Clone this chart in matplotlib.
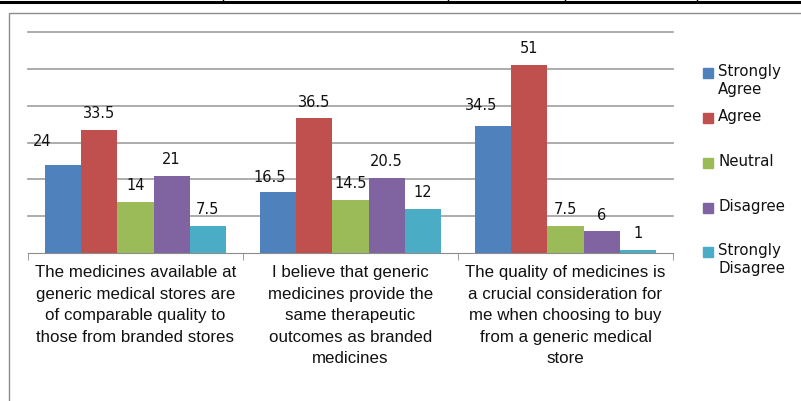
import matplotlib
matplotlib.use("Agg")
import matplotlib.pyplot as plt
from matplotlib import font_manager
from matplotlib.lines import Line2D
from matplotlib.patches import Rectangle
import numpy as np

# survey data (percent of respondents)
statements = [
    "The medicines available at\ngeneric medical stores are\nof comparable quality to\nthose from branded stores",
    "I believe that generic\nmedicines provide the\nsame therapeutic\noutcomes as branded\nmedicines",
    "The quality of medicines is\na crucial consideration for\nme when choosing to buy\nfrom a generic medical\nstore",
]
responses = ["Strongly\nAgree", "Agree", "Neutral", "Disagree", "Strongly\nDisagree"]
strongly_agree = [24, 16.5, 34.5]
agree = [33.5, 36.5, 51]
neutral = [14, 14.5, 7.5]
disagree = [21, 20.5, 6]
strongly_disagree = [7.5, 12, 1]

colors = ["#4F81BD", "#C0504D", "#9BBB59", "#8064A2", "#4BACC6"]
# Excel nudged the blue labels sideways; pixel offsets per group
blue_nudge = [(-21, 23), (-9, 15), (-12, 20)]


def pick_font(names):
    for n in names:
        try:
            font_manager.findfont(n, fallback_to_default=False)
            return n
        except Exception:
            pass
    return "DejaVu Sans"


narrow = pick_font(["Liberation Sans Narrow", "DejaVu Sans Condensed", "Liberation Sans"])
cat_size = 13.5 if narrow != "Liberation Sans" else 12.2
cat_spacing = 1.54

W, H = 801, 401
fig = plt.figure(figsize=(W / 100, H / 100), dpi=100)


def fx(px):
    return px / W


def fy(py):
    return 1 - py / H


# page furniture: table rule on top and chart frame
fig.add_artist(Line2D([0, 1], [fy(1.8), fy(1.8)], color="black", lw=2.2))
for xp in [223, 448, 565, 697]:
    fig.add_artist(Line2D([fx(xp), fx(xp)], [fy(0), fy(2)], color="black", lw=1))
fig.add_artist(Line2D([fx(8.5), fx(8.5), 1], [0, fy(12.5), fy(12.5)],
                      color="#8c8c8c", lw=1))

ax = fig.add_axes([fx(28), fy(253.3), fx(673) - fx(28), (253.3 - 31.7) / H])

series = [strongly_agree, agree, neutral, disagree, strongly_disagree]
x = np.arange(len(statements))
bw = 0.168
for i, vals in enumerate(series):
    pos = x + (i - 2) * bw
    bars = ax.bar(pos, vals, width=bw, color=colors[i], zorder=3)
    for j, b in enumerate(bars):
        dx, dy = blue_nudge[j] if i == 0 else (0, 16)
        ax.annotate(f"{vals[j]:g}", (b.get_x() + b.get_width() / 2, b.get_height()),
                    xytext=(dx, dy), textcoords="offset pixels",
                    ha="center", va="center", fontsize=10.5, color="#111111",
                    family="DejaVu Sans")

ax.set_xlim(-0.5, 2.5)
ax.set_ylim(0, 60)
ax.set_yticks(np.arange(10, 61, 10))
ax.yaxis.grid(True, color="#a6a6a6", lw=1.3, zorder=0)
for gl in ax.get_ygridlines():
    gl.set_clip_on(False)
ax.tick_params(axis="y", length=0, labelleft=False)
for s in ["left", "right", "top"]:
    ax.spines[s].set_visible(False)
ax.spines["bottom"].set_color("#8c8c8c")
ax.set_xticks([])
ax.set_xticks([-0.5, 0.5, 1.5, 2.5], minor=True)
ax.tick_params(axis="x", which="minor", length=5, color="#8c8c8c", labelbottom=False)

for i, s in enumerate(statements):
    ax.text(x[i], -12 / (253.3 - 31.7), s, transform=ax.get_xaxis_transform(),
            ha="center", va="top", fontsize=cat_size, linespacing=cat_spacing,
            family=[narrow, "DejaVu Sans"], color="#111111")

# manual legend to match the Excel layout
legend_y = [73, 118, 163, 208, 252]
for i, lab in enumerate(responses):
    y = legend_y[i]
    fig.add_artist(Rectangle((fx(703), fy(y + 5)), fx(10), 10 / H,
                             color=colors[i], transform=fig.transFigure))
    fig.text(fx(718), fy(y - 9), lab, ha="left", va="top", fontsize=10.8,
             linespacing=1.25, color="#111111", family="DejaVu Sans")

fig.savefig("out.png", dpi=100)
